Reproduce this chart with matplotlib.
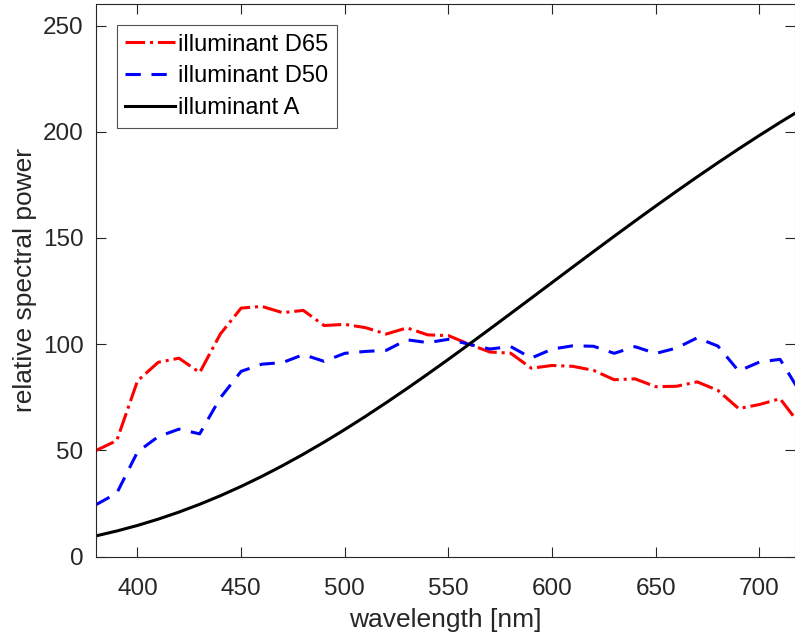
import matplotlib.pyplot as plt

plt.rcParams['font.family'] = ['Liberation Sans', 'DejaVu Sans']

# CIE standard illuminants, 10 nm steps
wavelength = list(range(380, 740, 10))
d65 = [49.98, 54.65, 82.75, 91.49, 93.43, 86.68, 104.86, 117.01, 117.81, 114.86,
       115.92, 108.81, 109.35, 107.80, 104.79, 107.69, 104.41, 104.05, 100.00, 96.33,
       95.79, 88.69, 90.01, 89.60, 87.70, 83.29, 83.70, 80.03, 80.21, 82.28,
       78.28, 69.72, 71.61, 74.35, 61.60, 69.89]
d50 = [24.49, 29.87, 49.31, 56.51, 60.03, 57.82, 74.82, 87.25, 90.61, 91.37,
       95.11, 91.96, 95.72, 96.61, 97.13, 102.10, 100.75, 102.32, 100.00, 97.74,
       98.92, 93.50, 97.69, 99.27, 99.04, 95.72, 98.86, 95.67, 98.19, 103.00,
       99.13, 87.38, 91.60, 92.89, 76.85, 86.51]
ill_a = [9.80, 12.09, 14.71, 17.68, 20.99, 24.67, 28.70, 33.09, 37.81, 42.87,
         48.24, 53.91, 59.86, 66.06, 72.50, 79.13, 85.95, 92.91, 100.00, 107.18,
         114.44, 121.73, 129.04, 136.35, 143.62, 150.84, 157.98, 165.03, 171.96, 178.77,
         185.43, 191.93, 198.26, 204.41, 210.36, 216.12]

fig = plt.figure(figsize=(7.95, 6.39), dpi=100)
ax = fig.add_axes([0.1208, 0.1288, 0.8787, 0.8645])

ax.plot(wavelength, d65, color='red', linestyle='-.', lw=2.2, label='illuminant D65')
ax.plot(wavelength, d50, color='blue', linestyle=(0, (5, 3.5)), lw=2.2, label='illuminant D50')
ax.plot(wavelength, ill_a, color='black', linestyle='-', lw=2.2, label='illuminant A')

ax.set_xlim(380, 717)
ax.set_ylim(0, 260)
ax.set_xticks([400, 450, 500, 550, 600, 650, 700])
ax.set_yticks([0, 50, 100, 150, 200, 250])

gray = '#262626'
for s in ax.spines.values():
    s.set_color(gray)
ax.spines['right'].set_color('#bbbbbb')
ax.tick_params(direction='in', top=True, right=True, length=7, width=0.8,
               colors=gray, labelsize=17.5)
ax.tick_params(axis='x', pad=15)
ax.tick_params(axis='y', pad=9)

ax.set_xlabel('wavelength [nm]', fontsize=19, color=gray, labelpad=6)
ax.set_ylabel('relative spectral power', fontsize=19, color=gray, labelpad=4)

leg = ax.legend(loc='upper left', bbox_to_anchor=(0.030, 0.962), fontsize=17,
                frameon=True, fancybox=False, edgecolor=gray, borderpad=0.35,
                handlelength=2.1, handletextpad=0.15, labelspacing=0.42, borderaxespad=0)
leg.get_frame().set_linewidth(0.8)

fig.savefig('out.png', dpi=100)
